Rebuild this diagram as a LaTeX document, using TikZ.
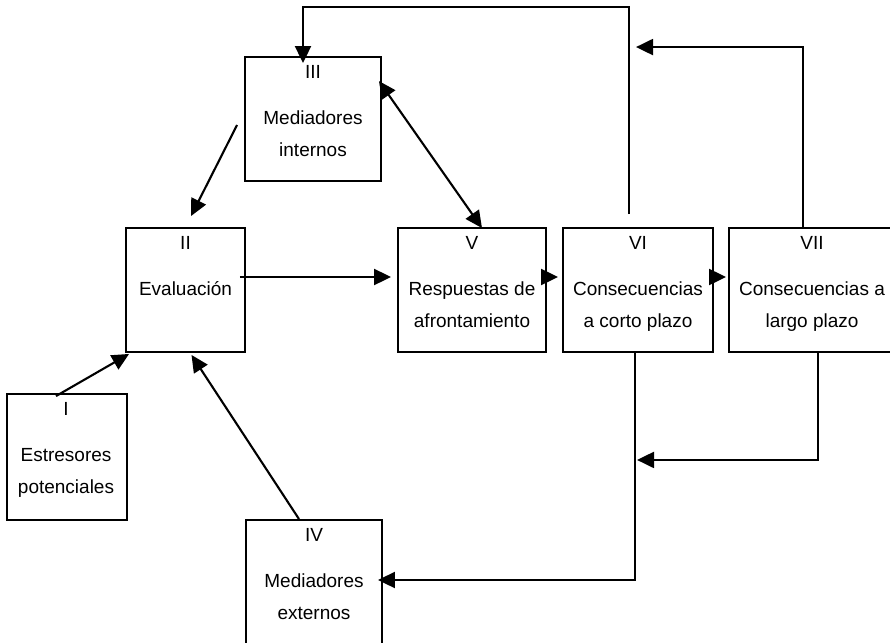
\documentclass[tikz,border=0pt]{standalone}
\usepackage{fontspec}
\setmainfont{Liberation Sans}
\usetikzlibrary{arrows.meta,calc}

\tikzset{
  stagebox/.style={draw, line width=1.9pt, rectangle, inner sep=0pt},
  stagetext/.style={anchor=north, inner sep=0pt, align=center,
    font=\fontsize{19}{32}\selectfont},
  arr/.style={line width=2.1pt, -{Triangle[length=17pt,width=16pt]}},
  darr/.style={line width=2.1pt, {Triangle[length=17pt,width=16pt]}-{Triangle[length=17pt,width=16pt]}},
}

\begin{document}
\begin{tikzpicture}[x=1pt,y=-1pt]
\useasboundingbox (0,0) rectangle (890,642);
\fill[white] (0,0) rectangle (890,642);
\clip (0,0) rectangle (890,642);

% stage boxes
\node[stagebox, minimum width=120pt, minimum height=126pt] (b1) at (67,457) {};
\node[stagebox, minimum width=119pt, minimum height=124pt] (b2) at (185.5,290) {};
\node[stagebox, minimum width=136pt, minimum height=124pt] (b3) at (313,119) {};
\node[stagebox, minimum width=136pt, minimum height=126pt] (b4) at (314,583) {};
\node[stagebox, minimum width=148pt, minimum height=124pt] (b5) at (472,290) {};
\node[stagebox, minimum width=150pt, minimum height=124pt] (b6) at (638,290) {};
\node[stagebox, minimum width=166pt, minimum height=124pt] (b7) at (812,290) {};

% stage labels
\node[stagetext] (t1) at ($(b1.north)+(-1,9.4)$) {I\\[14pt]Estresores\\potenciales};
\node[stagetext] (t2) at ($(b2.north)+(0,9.4)$) {II\\[14pt]Evaluación};
\node[stagetext] (t3) at ($(b3.north)+(0,9.4)$) {III\\[14pt]Mediadores\\internos};
\node[stagetext] (t4) at ($(b4.north)+(0,9.4)$) {IV\\[14pt]Mediadores\\externos};
\node[stagetext] (t5) at ($(b5.north)+(0,9.4)$) {V\\[14pt]Respuestas de\\afrontamiento};
\node[stagetext] (t6) at ($(b6.north)+(0,9.4)$) {VI\\[14pt]Consecuencias\\a corto plazo};
\node[stagetext] (t7) at ($(b7.north)+(0,9.4)$) {VII\\[14pt]Consecuencias a\\largo plazo};

% links into the appraisal stage
\draw[arr] ($(b1.north)+(-11,3)$) -- ($(b2.south west)+(4,1)$);
\draw[arr] ($(b4.north)+(-15,0)$) -- ($(b2.south)+(6,2)$);
\draw[arr] ($(b3.west)+(-7,6)$) -- ($(b2.north)+(5.5,-11)$);

% internal mediators and coping responses
\draw[darr] ($(b3.north east)+(-3,25)$) -- ($(b5.north)+(10,1)$);

% main chain
\draw[arr] ($(b2.east)+(-6,-13)$) -- ($(b5.west)+(-6,-13)$);
\draw[arr] ($(b5.east)+(0,-13)$) -- ($(b6.west)+(-4,-13)$);
\draw[arr] ($(b6.east)+(0,-13)$) -- ($(b7.west)+(-2,-13)$);

% feedback loops
\draw[arr] ($(b6.north)+(-9,-13)$) -- ++(0,-207) -| ($(b3.north)+(-10,7)$);
\draw[arr] ($(b7.north)+(-9,0)$) |- ($(b6.north)+(-2,-180)$);
\draw[arr] ($(b6.south)+(-3,0)$) |- ($(b4.east)+(-5,-3)$);
\draw[arr] ($(b7.south)+(6,0)$) |- ($(b6.south)+(-1,107)$);
\end{tikzpicture}
\end{document}
